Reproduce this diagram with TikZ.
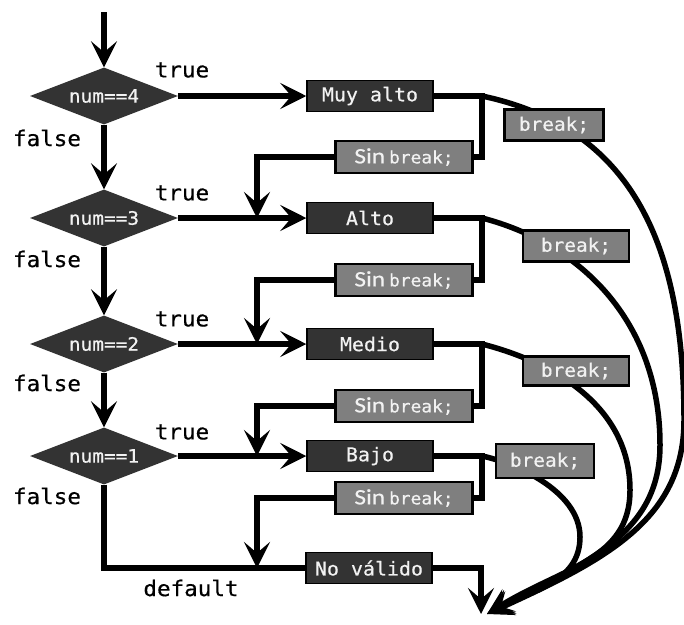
\documentclass[tikz,border=0pt]{standalone}
\usepackage{fontspec}
\usetikzlibrary{arrows.meta,shapes.geometric}
\newfontfamily\lblfont[FakeStretch=1.05,FakeBold=0.5]{DejaVu Sans Mono}
\newfontfamily\sinfont[FakeStretch=1.15,FakeBold=0.5]{Carlito}
\definecolor{dk}{HTML}{333333}
\definecolor{gr}{HTML}{7F7F7F}
\definecolor{tx}{HTML}{F2F2F2}
\tikzset{
  line/.style={line width=5.5pt},
  arr/.style={line width=5.5pt,-{Stealth[length=26pt,width=26pt,inset=11pt]}},
  cond/.style={diamond, shape aspect=2.6, fill=dk, minimum width=148pt, minimum height=57pt,
    inner sep=0pt, text=tx, font=\lblfont\fontsize{18.5}{18.5}\selectfont},
  act/.style={rectangle, fill=dk, draw=black, line width=1.5pt, minimum width=126pt,
    minimum height=31pt, inner sep=0pt, text=tx, font=\lblfont\fontsize{19}{19}\selectfont},
  gbox/.style={rectangle, fill=gr, draw=black, line width=2.5pt, minimum height=31pt,
    inner sep=0pt, text=tx, font=\lblfont\fontsize{18.5}{18.5}\selectfont},
  lbl/.style={inner sep=0pt, font=\lblfont\fontsize{21.5}{21.5}\selectfont}
}
\newcommand{\sinbrk}{{\sinfont\fontsize{22}{22}\selectfont Sin}\hspace{4pt}{\lblfont\fontsize{17}{17}\selectfont break;}}
\begin{document}
\begin{tikzpicture}[x=1pt,y=-1pt]
\useasboundingbox (0,0) rectangle (684,624);
% conditions
\node[cond] (d1) at (104,96) {num==4};
\node[cond] (d2) at (104,218) {num==3};
\node[cond] (d3) at (104,344) {num==2};
\node[cond] (d4) at (104,456) {num==1};
% actions
\node[act] (b1) at (370,96) {Muy alto};
\node[act] (b2) at (370,218) {Alto};
\node[act] (b3) at (370,344) {Medio};
\node[act] (b4) at (370,456) {Bajo};
\node[act] (nov) at (369,568) {No válido};
% sin break boxes
\node[gbox, minimum width=137pt, minimum height=32pt] (sb1) at (404,157) {\sinbrk};
\node[gbox, minimum width=137pt, minimum height=32pt] (sb2) at (404,280) {\sinbrk};
\node[gbox, minimum width=137pt, minimum height=32pt] (sb3) at (404,406) {\sinbrk};
\node[gbox, minimum width=137pt, minimum height=32pt] (sb4) at (404,498) {\sinbrk};
% coordinates
\coordinate (top) at (104,12);
\coordinate (s1) at (482,96);
\coordinate (s2) at (482,218);
\coordinate (s3) at (482,344);
\coordinate (s4) at (482,456);
\coordinate (j2) at (257,218);
\coordinate (j3) at (257,344);
\coordinate (j4) at (257,456);
\coordinate (j5) at (257,568);
\coordinate (tipc) at (487,614);
\coordinate (tipv) at (481,614);
% curves (behind break boxes)
\draw[arr] (s1) .. controls (629,127) and (684,240) .. (684,420)
  .. controls (684,520) and (605,560) .. (tipc);
\draw[arr] (s2) .. controls (579,243) and (660,320) .. (660,445)
  .. controls (660,535) and (584,563) .. (tipc);
\draw[arr] (s3) .. controls (560,364) and (630,410) .. (630,490)
  .. controls (630,560) and (563,567) .. (tipc);
\draw[arr] (s4) .. controls (512,462) and (580,490) .. (580,537)
  .. controls (580,582) and (532,590) .. (tipc);
% break boxes
\node[gbox, minimum width=99pt] (k1) at (554,125) {break;};
\node[gbox, minimum width=106pt] (k2) at (576,246) {break;};
\node[gbox, minimum width=106pt, minimum height=29pt] (k3) at (576,371) {break;};
\node[gbox, minimum width=98pt, minimum height=34pt] (k4) at (545,461) {break;};
% main flow
\draw[arr] (top) -- (d1.north);
\draw[arr] (d1.south) -- (d2.north);
\draw[arr] (d2.south) -- (d3.north);
\draw[arr] (d3.south) -- (d4.north);
\draw[arr] (d1.east) -- (b1.west);
\draw[arr] (d2.east) -- (b2.west);
\draw[arr] (d3.east) -- (b3.west);
\draw[arr] (d4.east) -- (b4.west);
\draw[line] (d4.south) |- (nov.west);
% splits
\draw[line] (b1.east) -- (s1) |- (sb1.east);
\draw[line] (b2.east) -- (s2) |- (sb2.east);
\draw[line] (b3.east) -- (s3) |- (sb3.east);
\draw[line] (b4.east) -- (s4) |- (sb4.east);
\draw[arr] (sb1.west) -| (j2);
\draw[arr] (sb2.west) -| (j3);
\draw[arr] (sb3.west) -| (j4);
\draw[arr] (sb4.west) -| (j5);
\draw[arr] (nov.east) -| (tipv);
% labels
\node[lbl] (t1) at (182,70) {true};
\node[lbl] (t2) at (182,193) {true};
\node[lbl] (t3) at (182,319) {true};
\node[lbl] (t4) at (182,432) {true};
\node[lbl] (f1) at (47,138) {false};
\node[lbl] (f2) at (47,259) {false};
\node[lbl] (f3) at (47,383) {false};
\node[lbl] (f4) at (47,496) {false};
\node[lbl] (df) at (191,588) {default};
\end{tikzpicture}
\end{document}
